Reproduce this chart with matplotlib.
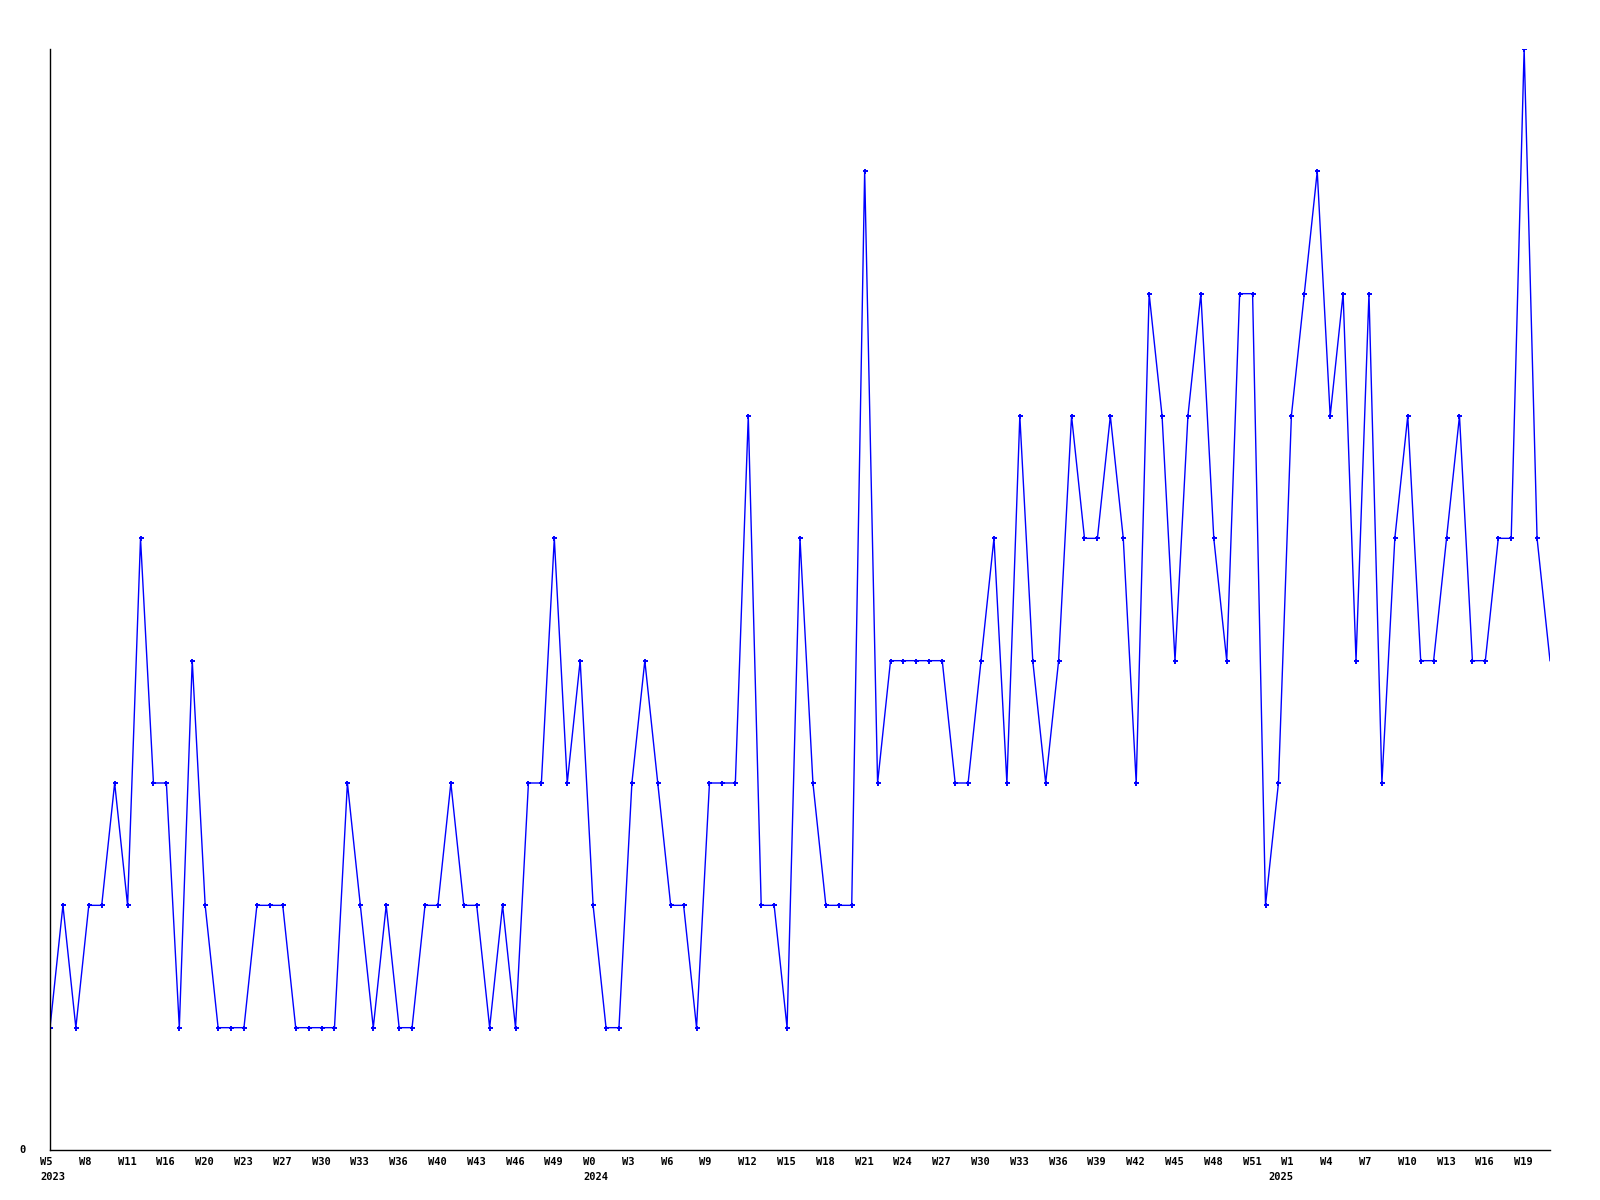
import matplotlib
matplotlib.use("Agg")
import matplotlib.pyplot as plt
import matplotlib.transforms as mtransforms

values = [1, 2, 1, 2, 2, 3, 2, 5, 3, 3,
          1, 4, 2, 1, 1, 1, 2, 2, 2, 1,
          1, 1, 1, 3, 2, 1, 2, 1, 1, 2,
          2, 3, 2, 2, 1, 2, 1, 3, 3, 5,
          3, 4, 2, 1, 1, 3, 4, 3, 2, 2,
          1, 3, 3, 3, 6, 2, 2, 1, 5, 3,
          2, 2, 2, 8, 3, 4, 4, 4, 4, 4,
          3, 3, 4, 5, 3, 6, 4, 3, 4, 6,
          5, 5, 6, 5, 3, 7, 6, 4, 6, 7,
          5, 4, 7, 7, 2, 3, 6, 7, 8, 6,
          7, 4, 7, 3, 5, 6, 4, 4, 5, 6,
          4, 4, 5, 5, 9, 5, 4]

tick_labels = ["W5", "W8", "W11", "W16", "W20", "W23", "W27", "W30", "W33", "W36",
               "W40", "W43", "W46", "W49", "W0", "W3", "W6", "W9", "W12", "W15",
               "W18", "W21", "W24", "W27", "W30", "W33", "W36", "W39", "W42", "W45",
               "W48", "W51", "W1", "W4", "W7", "W10", "W13", "W16", "W19"]
year_ticks = [0, 14, 32]
year_names = ["2023", "2024", "2025"]
tick_step = 3

fig = plt.figure(figsize=(16, 12), dpi=100)
ax = fig.add_axes([50/1600, 50/1200, 1500/1600, 1101/1200])

x = list(range(len(values)))
ax.plot(x, values, color="#0000ff", linewidth=1.0, marker="+", markersize=3.6,
        markeredgewidth=1.4, markevery=list(range(len(values) - 1)),
        solid_joinstyle="miter")

ax.set_xlim(0, len(values) - 1)
ax.set_ylim(0, 9)
for s in ["top", "right"]:
    ax.spines[s].set_visible(False)
for s in ["left", "bottom"]:
    ax.spines[s].set_color("black")
    ax.spines[s].set_linewidth(1.0)
ax.set_xticks([])
ax.set_yticks([])

font = dict(family="DejaVu Sans Mono", fontweight="bold", fontsize=7.5, color="black")
off1 = mtransforms.ScaledTranslation(-10/100, -12/100, fig.dpi_scale_trans)
tr = ax.get_xaxis_transform()
for i, lab in enumerate(tick_labels):
    ax.text(i * tick_step, 0, lab, transform=tr + off1, ha="left", va="center", **font)

for k, (ti, yn) in enumerate(zip(year_ticks, year_names)):
    dx = -10 if k < 2 else -23
    off2 = mtransforms.ScaledTranslation(dx/100, -27/100, fig.dpi_scale_trans)
    ax.text(ti * tick_step, 0, yn, transform=tr + off2, ha="left", va="center", **font)

off0 = mtransforms.ScaledTranslation(-24/100, 0, fig.dpi_scale_trans)
ax.text(0, 0, "0", transform=ax.transData + off0, ha="right", va="center", **font)

fig.savefig("out.png", dpi=100, facecolor="white")
